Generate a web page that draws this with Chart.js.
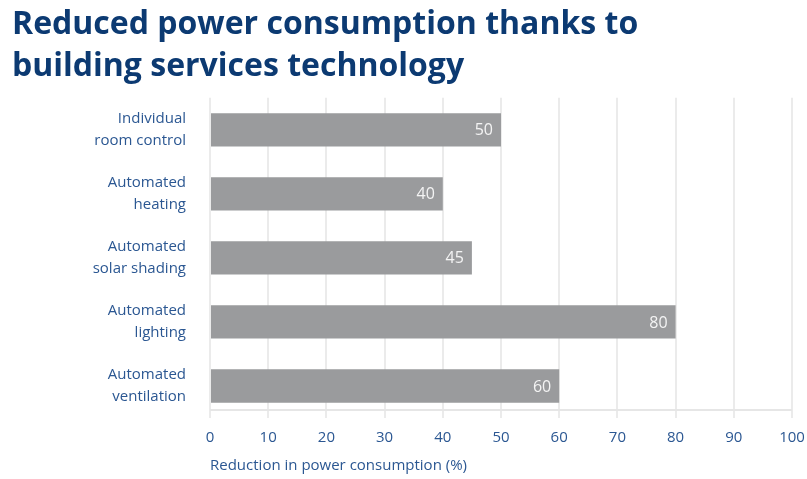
<!DOCTYPE html>
<html>
<head>
<meta charset="utf-8">
<script src="https://cdn.jsdelivr.net/npm/chart.js@4"></script>
<style>
  html, body { margin: 0; padding: 0; background: #fff; }
  #wrap { width: 807px; height: 479px; position: relative; }
</style>
</head>
<body>
<div id="wrap"><canvas id="chart"></canvas></div>
<script>
const categories = [
  ['Individual', 'room control'],
  ['Automated', 'heating'],
  ['Automated', 'solar shading'],
  ['Automated', 'lighting'],
  ['Automated', 'ventilation']
]
const reduction = [50, 40, 45, 80, 60]
const xTicks = [0, 10, 20, 30, 40, 50, 60, 70, 80, 90, 100]

const blue = '#2b5792'
const navy = '#0c3a72'
const font = "'Open Sans', sans-serif"

// value labels inside the end of each bar
const valueLabels = {
  id: 'valueLabels',
  afterDatasetsDraw(chart) {
    const ctx = chart.ctx
    const meta = chart.getDatasetMeta(0)
    ctx.save()
    ctx.font = '16px ' + font
    ctx.fillStyle = '#f4f4f4'
    ctx.textAlign = 'right'
    ctx.textBaseline = 'middle'
    meta.data.forEach((bar, i) => {
      ctx.fillText(String(reduction[i]), bar.x - 8, bar.y + 1)
    })
    ctx.restore()
  }
}

// light baseline rule just above the tick marks
const baseRule = {
  id: 'baseRule',
  beforeDatasetsDraw(chart) {
    const { ctx, chartArea } = chart
    ctx.save()
    ctx.strokeStyle = '#e6e6e6'
    ctx.lineWidth = 2
    ctx.beginPath()
    ctx.moveTo(chartArea.left, chartArea.bottom - 8)
    ctx.lineTo(chartArea.right, chartArea.bottom - 8)
    ctx.stroke()
    ctx.restore()
  }
}

new Chart(document.getElementById('chart'), {
  type: 'bar',
  data: {
    labels: categories,
    datasets: [{
      data: reduction,
      backgroundColor: '#9a9b9d',
      borderWidth: 0,
      barPercentage: 0.52,
      categoryPercentage: 1
    }]
  },
  options: {
    indexAxis: 'y',
    responsive: true,
    maintainAspectRatio: false,
    animation: false,
    layout: { padding: { left: 12, right: 0, top: 0, bottom: 0 } },
    plugins: {
      legend: { display: false },
      tooltip: { enabled: false },
      title: {
        display: true,
        text: ['Reduced power consumption thanks to', 'building services technology'],
        align: 'start',
        color: navy,
        font: { family: font, size: 32, weight: 'bold', lineHeight: 1.31 },
        padding: { top: 4, bottom: 10 }
      }
    },
    scales: {
      x: {
        min: 0,
        max: 100,
        afterBuildTicks: (scale) => { scale.ticks = xTicks.map(v => ({ value: v })) },
        afterFit: (scale) => {
          scale.height = 61
          scale.paddingRight = 15
          scale.paddingLeft = 0
        },
        grid: { color: '#ebebeb', lineWidth: 2, tickLength: 0 },
        border: { display: false },
        ticks: { color: blue, font: { family: font, size: 15 }, padding: 11, maxRotation: 0 },
        title: {
          display: true,
          text: 'Reduction in power consumption (%)',
          align: 'start',
          color: blue,
          font: { family: font, size: 15 },
          padding: { top: 8 }
        }
      },
      y: {
        afterFit: (scale) => { scale.width = 198 },
        grid: { display: false },
        border: { display: false },
        ticks: { color: blue, font: { family: font, size: 15, lineHeight: 1.5 }, padding: 16 }
      }
    }
  },
  plugins: [valueLabels, baseRule]
})
</script>
</body>
</html>
